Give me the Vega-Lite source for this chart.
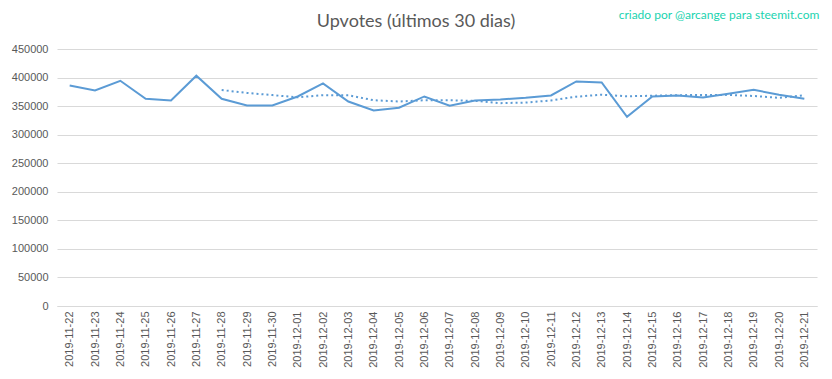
{
  "$schema": "https://vega.github.io/schema/vega-lite/v6.json",
  "width": 760,
  "height": 257,
  "autosize": "none",
  "padding": {"left": 57, "top": 49, "right": 15, "bottom": 73},
  "background": "white",
  "title": {
    "text": "Upvotes (últimos 30 dias)",
    "font": "Lato",
    "fontSize": 18,
    "fontWeight": "normal",
    "color": "#595959",
    "anchor": "middle",
    "dx": -21,
    "offset": 0,
    "dy": 22
  },
  "data": {
    "values": [
      {"date": "2019-11-22", "series": "Upvotes", "value": 386200},
      {"date": "2019-11-23", "series": "Upvotes", "value": 377400},
      {"date": "2019-11-24", "series": "Upvotes", "value": 394400},
      {"date": "2019-11-25", "series": "Upvotes", "value": 362900},
      {"date": "2019-11-26", "series": "Upvotes", "value": 359900},
      {"date": "2019-11-27", "series": "Upvotes", "value": 403200},
      {"date": "2019-11-28", "series": "Upvotes", "value": 362900},
      {"date": "2019-11-29", "series": "Upvotes", "value": 351100},
      {"date": "2019-11-30", "series": "Upvotes", "value": 351000},
      {"date": "2019-12-01", "series": "Upvotes", "value": 366900},
      {"date": "2019-12-02", "series": "Upvotes", "value": 389700},
      {"date": "2019-12-03", "series": "Upvotes", "value": 358100},
      {"date": "2019-12-04", "series": "Upvotes", "value": 342400},
      {"date": "2019-12-05", "series": "Upvotes", "value": 347100},
      {"date": "2019-12-06", "series": "Upvotes", "value": 366900},
      {"date": "2019-12-07", "series": "Upvotes", "value": 350600},
      {"date": "2019-12-08", "series": "Upvotes", "value": 359900},
      {"date": "2019-12-09", "series": "Upvotes", "value": 361600},
      {"date": "2019-12-10", "series": "Upvotes", "value": 364600},
      {"date": "2019-12-11", "series": "Upvotes", "value": 368600},
      {"date": "2019-12-12", "series": "Upvotes", "value": 393200},
      {"date": "2019-12-13", "series": "Upvotes", "value": 391400},
      {"date": "2019-12-14", "series": "Upvotes", "value": 331300},
      {"date": "2019-12-15", "series": "Upvotes", "value": 366900},
      {"date": "2019-12-16", "series": "Upvotes", "value": 368600},
      {"date": "2019-12-17", "series": "Upvotes", "value": 365200},
      {"date": "2019-12-18", "series": "Upvotes", "value": 371600},
      {"date": "2019-12-19", "series": "Upvotes", "value": 378600},
      {"date": "2019-12-20", "series": "Upvotes", "value": 369900},
      {"date": "2019-12-21", "series": "Upvotes", "value": 362900},
      {"date": "2019-11-28", "series": "Média móvel", "value": 378100},
      {"date": "2019-11-29", "series": "Média móvel", "value": 373100},
      {"date": "2019-11-30", "series": "Média móvel", "value": 369300},
      {"date": "2019-12-01", "series": "Média móvel", "value": 365400},
      {"date": "2019-12-02", "series": "Média móvel", "value": 369200},
      {"date": "2019-12-03", "series": "Média móvel", "value": 369000},
      {"date": "2019-12-04", "series": "Média móvel", "value": 360300},
      {"date": "2019-12-05", "series": "Média móvel", "value": 358000},
      {"date": "2019-12-06", "series": "Média móvel", "value": 360300},
      {"date": "2019-12-07", "series": "Média móvel", "value": 360200},
      {"date": "2019-12-08", "series": "Média móvel", "value": 359200},
      {"date": "2019-12-09", "series": "Média móvel", "value": 355200},
      {"date": "2019-12-10", "series": "Média móvel", "value": 356200},
      {"date": "2019-12-11", "series": "Média móvel", "value": 359900},
      {"date": "2019-12-12", "series": "Média móvel", "value": 366500},
      {"date": "2019-12-13", "series": "Média móvel", "value": 370000},
      {"date": "2019-12-14", "series": "Média móvel", "value": 367200},
      {"date": "2019-12-15", "series": "Média móvel", "value": 368200},
      {"date": "2019-12-16", "series": "Média móvel", "value": 369200},
      {"date": "2019-12-17", "series": "Média móvel", "value": 369300},
      {"date": "2019-12-18", "series": "Média móvel", "value": 369700},
      {"date": "2019-12-19", "series": "Média móvel", "value": 367700},
      {"date": "2019-12-20", "series": "Média móvel", "value": 364600},
      {"date": "2019-12-21", "series": "Média móvel", "value": 369100}
    ]
  },
  "encoding": {
    "x": {
      "field": "date",
      "type": "ordinal",
      "sort": "ascending",
      "scale": {"type": "point", "padding": 0.5},
      "axis": {
        "title": null,
        "labelAngle": -90,
        "labelFont": "Liberation Sans",
        "labelFontSize": 11,
        "labelColor": "#595959",
        "labelPadding": 5,
        "ticks": false,
        "domainColor": "#d9d9d9",
        "grid": false
      }
    },
    "y": {
      "field": "value",
      "type": "quantitative",
      "scale": {"domain": [0, 450000], "nice": false},
      "axis": {
        "title": null,
        "values": [0, 50000, 100000, 150000, 200000, 250000, 300000, 350000, 400000, 450000],
        "format": "d",
        "labelFont": "Liberation Sans",
        "labelFontSize": 11,
        "labelColor": "#595959",
        "labelPadding": 9,
        "labelOverlap": false,
        "labelFlush": false,
        "ticks": false,
        "domain": false,
        "gridColor": "#d9d9d9",
        "gridWidth": 1
      }
    }
  },
  "layer": [
    {
      "transform": [{"filter": "datum.series == 'Upvotes'"}],
      "mark": {"type": "line", "color": "#5b9bd5", "strokeWidth": 2}
    },
    {
      "transform": [{"filter": "datum.series == 'Média móvel'"}],
      "mark": {"type": "line", "color": "#5b9bd5", "strokeWidth": 2, "strokeDash": [2, 3]}
    },
    {
      "data": {"values": [{"date": "2019-12-21", "value": 510000, "label": "criado por @arcange para steemit.com"}]},
      "mark": {"type": "text", "align": "right", "baseline": "middle", "dx": 15, "font": "Lato", "fontSize": 12, "color": "#1ad3b0"},
      "encoding": {
        "text": {"field": "label"}
      }
    }
  ],
  "config": {
    "view": {"stroke": null}
  }
}
